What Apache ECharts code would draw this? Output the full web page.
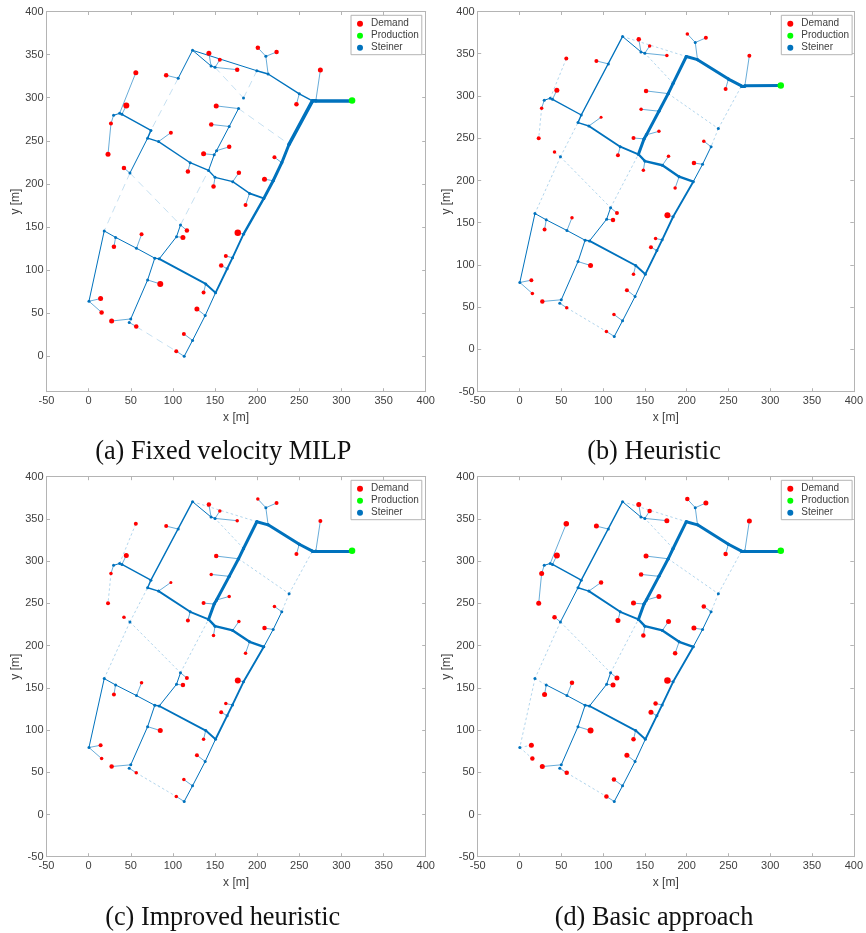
<!DOCTYPE html>
<html><head><meta charset="utf-8">
<style>html,body{margin:0;padding:0;background:#fff}#c{width:866px;height:933px}</style>
<script src="https://cdn.jsdelivr.net/npm/echarts@6/dist/echarts.min.js"></script>
</head><body><div id="c"></div>
<script>
const xTicks = [-50,0,50,100,150,200,250,300,350,400];
const yTicksA = [0,50,100,150,200,250,300,350,400];
const legendNames = ['Demand','Production','Steiner'];
const captions = ['(a) Fixed velocity MILP','(b) Heuristic','(c) Improved heuristic','(d) Basic approach'];

// Demand nodes D1..D40
const demandX  = [200.8,223,275,142.7,155.7,176.3,92,56,44.7,26.5,23,246.6,151.4,145.5,97.6,136.4,166.8,41.9,117.8,178.3,148.2,220.5,208.7,186.2,177,116.6,111.9,62.8,30,162.8,157.3,136.4,85,128.5,14.2,15.4,27.3,56.5,113,104];
const demandY  = [373.5,368.8,347.5,367.2,359.3,347.9,341.5,344.3,306.8,285.5,250,308.4,306,284.3,274.8,250.3,258.2,233.7,229.8,228.6,212,246.4,220.7,191,158.7,161.5,153.2,156,142,131.3,121,89,99.4,70.2,82,66.2,56.8,49.3,41.4,21.3];
const demandYA = [358,353,332,351.5,344,332.5,326,329,291,270,234.5,292.5,290.5,269,259.5,235,243,218.5,214.5,213,197,231,205.5,175.5,143.5,146,138,141.5,127,116.5,105.5,74,84,55,67,51,41,34.5,26,6];
const sizeA = [4.5,4.5,5,5,4,4.5,4.5,5,6,4,5,4.5,5,4.5,4,5,4.5,4.5,4.5,4.5,4.5,4,5,4,6.5,4.5,5,4,4.5,4,4.5,4,6,5,5,4.5,5,4.5,4,4];
const sizeB = [3.5,4,4,4.5,3.5,3.5,4,4,5,3.5,4,4,4.5,3.5,3,4,3.5,3.5,4,3.5,3.5,3.5,4.5,3.5,6,4,4.5,3.5,4,3.5,4,3.5,5,4,4,3.5,4.5,3.5,3.5,3.5];
const sizeD = [4.5,5,5,5,4.5,5,5,5.5,6,5,5,4.5,5,4.5,4.5,5,5,4.5,5,5,4.5,4.5,5,4.5,6.5,5,5,4.5,5,4.5,5,4.5,6,5,5,4.5,5,4.5,4.5,4.5];

// Steiner nodes
const steinerNames = ['J','A','B','C','E','F','T1','T2','T3','T4','T4b','T5','G','H','K','L','M','N','O','Q','R','U','V','W','X','Y','Z','AA','AB','AC','AD','AE','AF','AG','AH','AI','AJ','AK','AL','BA','BB','BC','BD','BE','BF','BG','BH','BI','BJ','BK'];
const steinerX  = [265.6,269.6,250,213,210.3,199.6,183.8,177.9,166.8,149,151.8,142.3,150,171,191,207.9,237.9,229.2,219,183.8,170.7,164.4,150.6,139,83.8,78.5,56.8,32,18.5,0.4,50,70,48.2,113.4,123.3,138.3,104.3,109,49,120.5,83,70,73.9,123.3,106.3,39.5,36.8,29.6,145.3,150];
const steinerY  = [311.9,312,320,343,363.3,346.7,315,302.8,282,249.2,254,231,223,218,204.5,198.6,261.4,240,219.1,157.1,129.7,117,89.1,99.4,128.5,129.3,140.8,153.4,160.9,79.3,58.8,104,54.8,15.4,33.9,62.7,154.2,167.8,228,240,264.5,268.5,277.5,370.4,338,296.1,297.3,295,352.2,350.6];
const steinerYA = [296.3,296.5,304.5,327.5,348,331.3,299.6,287.4,266.6,233.8,238.6,215.6,207.6,202.6,189,183.2,246,224.6,203.7,141.7,114.3,101.6,73.7,84,113.1,113.9,125.4,138,145.5,63.9,43.4,88.6,39.4,0,18.5,47.3,138.8,152.4,212.6,224.6,249.1,253.1,262.1,355,322.6,280.7,281.9,279.6,336.8,335.2];
const productionX = 312.6, productionY = 312.3, productionYA = 296.8, productionSize = 6.5;

const twigs = ['C-E','E-D1','E-D2','A-D3','B-D12','BJ-D4','BK-D5','BK-D6','BF-D7','BG-D9','BI-D10','T2-D13','T3-D14','BB-D15','T4-D16','T4b-D17','BA-D19','H-D20','G-D21','N-D22','O-D23','K-D24','Q-D25','AK-D26','AJ-D27','Z-D28','AA-D29','R-D30','U-D31','W-D32','AE-D33','AI-D34','AC-D35','AC-D36','AD-D37','AF-D38','AH-D39','AG-D40'];
const twigsNoAC = twigs.filter(e => !e.startsWith('AC-'));

// pipes by size class: index 0 is dashed, 1..7 thin to thick
const pipesA = [
 ['AL-AK','AK-T5','AL-AB','BF-BD','BK-T1','T1-F','T2-M','D38-D40'],
 twigs.concat(['BH-D8','D10-D11','AL-D18']),
 ['F-BE','BE-BJ','BJ-BK','T5-T4','T4-T4b','T4b-T3','T3-T2','Y-Z','Z-AA','AA-AB','AB-AC','Y-AE','AE-AD','V-AI','AI-AH','AH-AG','BC-AL','BE-BF','X-AJ','AJ-AK','BG-BH','BH-BI'],
 ['J-B','B-C','C-F','K-H','H-G','G-T5','T5-BA','BA-BB','BB-BC','BC-BD','BD-BG','X-Y'],
 ['Q-R','R-U','U-V','X-W','W-V','L-K'],
 ['L-Q'],
 ['M-N','N-O','O-L'],
 ['P-A','A-J','J-M']
];
const pipesB = [
 ['D10-D11','BH-D8','AL-D18','AL-BC','AL-AB','AL-AK','AK-T5','T1-BK','BE-F','T2-M','M-J','M-N','D38-D40'],
 twigs,
 ['Y-Z','Z-AA','AA-AB','BG-BH','BH-BI','BE-BJ','BJ-BK','L-O','O-N','V-AI','AI-AH','AH-AG','Y-AE','AE-AD','AB-AC','X-AJ','AJ-AK'],
 ['BB-BC','BC-BD','BD-BE','BD-BG','X-Y'],
 ['T5-BA','BA-BB','L-Q','Q-R','R-U','U-V','X-W','W-V'],
 ['T5-G','G-H','H-K','K-L'],
 ['P-A','A-J','J-B','B-C','C-F','F-T1','T1-T2','T2-T3','T3-T4b','T4b-T4','T4-T5'],
 []
];
const pipesC = pipesB;
const pipesD = [
 ['AL-AB','AB-AC','AB-AA','AL-AK','AK-T5','T1-BK','BE-F','T2-M','M-J','M-N','D38-D40','AC-D35','AC-D36'],
 twigsNoAC.concat(['BH-D8','D10-D11','AL-D18']),
 ['Y-Z','Z-AA','BG-BH','BH-BI','BE-BJ','BJ-BK','L-O','O-N','V-AI','AI-AH','AH-AG','Y-AE','AE-AD','X-AJ','AJ-AK','AL-BC'],
 ['BB-BC','BC-BD','BD-BE','BD-BG','X-Y'],
 ['T5-BA','BA-BB','L-Q','Q-R','R-U','U-V','X-W','W-V'],
 ['T5-G','G-H','H-K','K-L'],
 ['P-A','A-J','J-B','B-C','C-F','F-T1','T1-T2','T2-T3','T3-T4b','T4b-T4','T4-T5'],
 []
];

const BLUE = '#0072BD';
const pipeWidths = [0.9,0.7,1,1.4,1.9,2.4,3,3.6];
const TXT = '#404040', AX = '#b4b4b4';

const panels = [
 {g:{left:46.5,top:11.5,width:379.2,height:380.2},ymin:-41,yt:yTicksA,yv:demandYA,sy:steinerYA,py:productionYA,size:sizeA,pipes:pipesA,dash:[7,5],dashC:'#bfdcef',
  leg:{left:351,top:15.3},cap:[223.3,439]},
 {g:{left:477.7,top:11.5,width:379.4,height:380.2},ymin:-50,yt:xTicks,yv:demandY,sy:steinerY,py:productionY,size:sizeB,pipes:pipesB,dash:[2.5,2.5],dashC:'#a9d0ea',
  leg:{left:781.3,top:15.3},cap:[654,439]},
 {g:{left:46.5,top:476.7,width:379.2,height:380},ymin:-50,yt:xTicks,yv:demandY,sy:steinerY,py:productionY,size:sizeB,pipes:pipesC,dash:[2.5,2.5],dashC:'#a9d0ea',
  leg:{left:351,top:480.3},cap:[222.7,905]},
 {g:{left:477.7,top:476.7,width:379.4,height:380},ymin:-50,yt:xTicks,yv:demandY,sy:steinerY,py:productionY,size:sizeD,pipes:pipesD,dash:[2.5,2.5],dashC:'#a9d0ea',
  leg:{left:781.3,top:480.3},cap:[654,905]}
];

const option = {animation:false,backgroundColor:'#fff',grid:[],xAxis:[],yAxis:[],series:[],legend:[],title:[]};
panels.forEach((p,i)=>{
  const lookup = n => {
    if (n==='P') return [productionX,p.py];
    if (/^D\d+$/.test(n)) { const k=+n.slice(1)-1; return [demandX[k],p.yv[k]]; }
    const k=steinerNames.indexOf(n); return [steinerX[k],p.sy[k]];
  };
  option.grid.push(Object.assign({containLabel:false,show:false},p.g));
  const base = {type:'value',splitLine:{show:false},axisLine:{show:true,onZero:false,lineStyle:{color:AX,width:1}}};
  const tk = v => ({show:true,inside:true,length:3.5,lineStyle:{color:AX,width:1},customValues:v});
  const lb = (v,m) => ({show:true,color:TXT,fontSize:11,fontFamily:'Liberation Sans',margin:m,customValues:v,formatter:x=>String(x)});
  option.xAxis.push(Object.assign({},base,{gridIndex:i,position:'bottom',min:-50,max:400,axisTick:tk(xTicks),axisLabel:lb(xTicks,4),
    name:'x [m]',nameLocation:'middle',nameGap:19.5,nameTextStyle:{color:TXT,fontSize:12,fontFamily:'Liberation Sans'}}));
  option.yAxis.push(Object.assign({},base,{gridIndex:i,position:'left',min:p.ymin,max:400,axisTick:tk(p.yt),axisLabel:lb(p.yt,3),
    name:'y [m]',nameLocation:'middle',nameGap:18,nameTextStyle:{color:TXT,fontSize:12,fontFamily:'Liberation Sans'}}));
  option.xAxis.push(Object.assign({},base,{gridIndex:i,position:'top',min:-50,max:400,axisTick:tk(xTicks),axisLabel:{show:false}}));
  option.yAxis.push(Object.assign({},base,{gridIndex:i,position:'right',min:p.ymin,max:400,axisTick:tk(p.yt),axisLabel:{show:false}}));
  const xi=i*2, yi=i*2;
  p.pipes.forEach((list,t)=>{
    if(!list.length) return;
    option.series.push({type:'lines',coordinateSystem:'cartesian2d',xAxisIndex:xi,yAxisIndex:yi,name:'pipes '+i+'-'+t,silent:true,z:2+t/10,
      lineStyle:t===0?{color:p.dashC,width:pipeWidths[0],type:p.dash,opacity:1}:{color:BLUE,width:pipeWidths[t],opacity:t===1?0.85:1,cap:'round',join:'round'},
      data:list.map(e=>{const [a,b]=e.split('-');return {coords:[lookup(a),lookup(b)]};})});
  });
  option.series.push({type:'scatter',name:'Steiner',xAxisIndex:xi,yAxisIndex:yi,symbol:'circle',symbolSize:3,itemStyle:{color:BLUE,opacity:1},z:4,silent:true,
    data:steinerX.map((x,k)=>[x,p.sy[k]])});
  option.series.push({type:'scatter',name:'Demand',xAxisIndex:xi,yAxisIndex:yi,symbol:'circle',itemStyle:{color:'#ff0000',opacity:1},z:5,silent:true,
    data:demandX.map((x,k)=>({value:[x,p.yv[k]],symbolSize:p.size[k]}))});
  option.series.push({type:'scatter',name:'Production',xAxisIndex:xi,yAxisIndex:yi,symbol:'circle',symbolSize:productionSize,itemStyle:{color:'#00ff00',opacity:1},z:6,silent:true,
    data:[[productionX,p.py]]});
  option.legend.push({show:true,data:legendNames.map(n=>({name:n,icon:'circle'})),orient:'vertical',left:p.leg.left,top:p.leg.top,
    itemWidth:6,itemHeight:6,itemGap:0,padding:[2.4,3,1,6],backgroundColor:'#fff',borderColor:AX,borderWidth:1,borderRadius:0,
    selectedMode:false,textStyle:{color:TXT,fontSize:10,lineHeight:12,fontFamily:'Liberation Sans',padding:[0,0,0,3]},z:10});
  option.title.push({text:captions[i],left:p.cap[0],top:p.cap[1],textAlign:'center',padding:0,
    textStyle:{fontFamily:'Liberation Serif',fontWeight:'normal',fontSize:26.3,color:'#111'}});
});
const chart = echarts.init(document.getElementById('c'),null,{renderer:'canvas'});
chart.setOption(option);
</script></body></html>
